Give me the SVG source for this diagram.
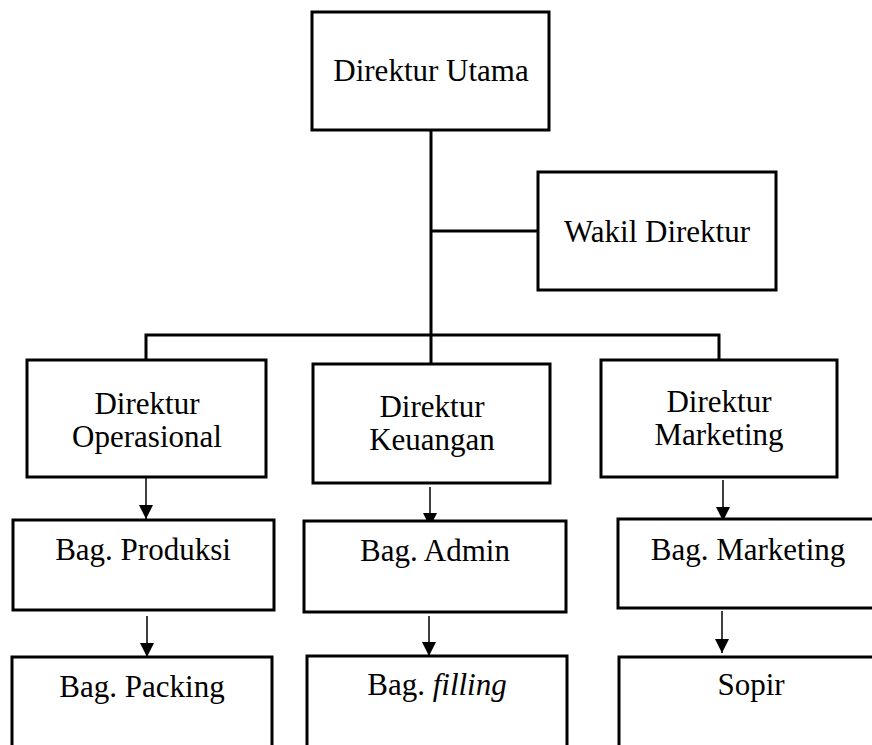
<svg xmlns="http://www.w3.org/2000/svg" width="872" height="745" viewBox="0 0 872 745">
<style>
.box{fill:#fff;stroke:#000;stroke-width:3}
.t{font-family:"Liberation Serif","Times New Roman",serif;font-size:31px;fill:#000;text-anchor:middle}
.ln{stroke:#000;stroke-width:3;fill:none}
.ar{stroke:#000;stroke-width:1.5;fill:none;marker-end:url(#ah)}
</style>
<defs>
<marker id="ah" markerWidth="14" markerHeight="14" viewBox="0 0 14 14" refX="14" refY="7" orient="auto" markerUnits="userSpaceOnUse">
<path d="M0,0 L14,7 L0,14 Z" fill="#000"/>
</marker>
</defs>
<rect width="872" height="745" fill="#fff"/>
<g id="connectors">
<path class="ln" d="M431,130 V335"/>
<path class="ln" d="M431,231 H538"/>
<path class="ln" d="M146,360 V335 H719 V360"/>
<path class="ln" d="M431,335 V364"/>
<path class="ar" d="M146,478 V519"/>
<path class="ar" d="M430,487 V527"/>
<path class="ar" d="M723,480 V521"/>
<path class="ar" d="M147,616 V657"/>
<path class="ar" d="M429,616 V656"/>
<path class="ar" d="M722,611 V653"/>
</g>
<g id="direktur-utama"><rect class="box" x="312" y="12" width="237" height="118"/><text class="t" x="431" y="81">Direktur Utama</text></g>
<g id="wakil-direktur"><rect class="box" x="538" y="172" width="238" height="118"/><text class="t" x="657" y="242">Wakil Direktur</text></g>
<g id="direktur-operasional"><rect class="box" x="27" y="360" width="239" height="117"/><text class="t" x="147" y="414">Direktur</text><text class="t" x="147" y="447">Operasional</text></g>
<g id="direktur-keuangan"><rect class="box" x="313" y="364" width="237" height="119"/><text class="t" x="432" y="417">Direktur</text><text class="t" x="432" y="450">Keuangan</text></g>
<g id="direktur-marketing"><rect class="box" x="601" y="360" width="236" height="117"/><text class="t" x="719" y="412">Direktur</text><text class="t" x="719" y="445">Marketing</text></g>
<g id="bag-produksi"><rect class="box" x="13" y="520" width="261" height="90"/><text class="t" x="143" y="560">Bag. Produksi</text></g>
<g id="bag-admin"><rect class="box" x="304" y="521" width="262" height="91"/><text class="t" x="435" y="561">Bag. Admin</text></g>
<g id="bag-marketing"><rect class="box" x="618" y="519" width="258" height="89"/><text class="t" x="748" y="560">Bag. Marketing</text></g>
<g id="bag-packing"><rect class="box" x="12" y="657" width="260" height="110"/><text class="t" x="142" y="697">Bag. Packing</text></g>
<g id="bag-filling"><rect class="box" x="307" y="656" width="260" height="110"/><text class="t" x="437" y="695">Bag. <tspan font-style="italic">filling</tspan></text></g>
<g id="sopir"><rect class="box" x="619" y="657" width="262" height="110"/><text class="t" x="751" y="695">Sopir</text></g>
</svg>
